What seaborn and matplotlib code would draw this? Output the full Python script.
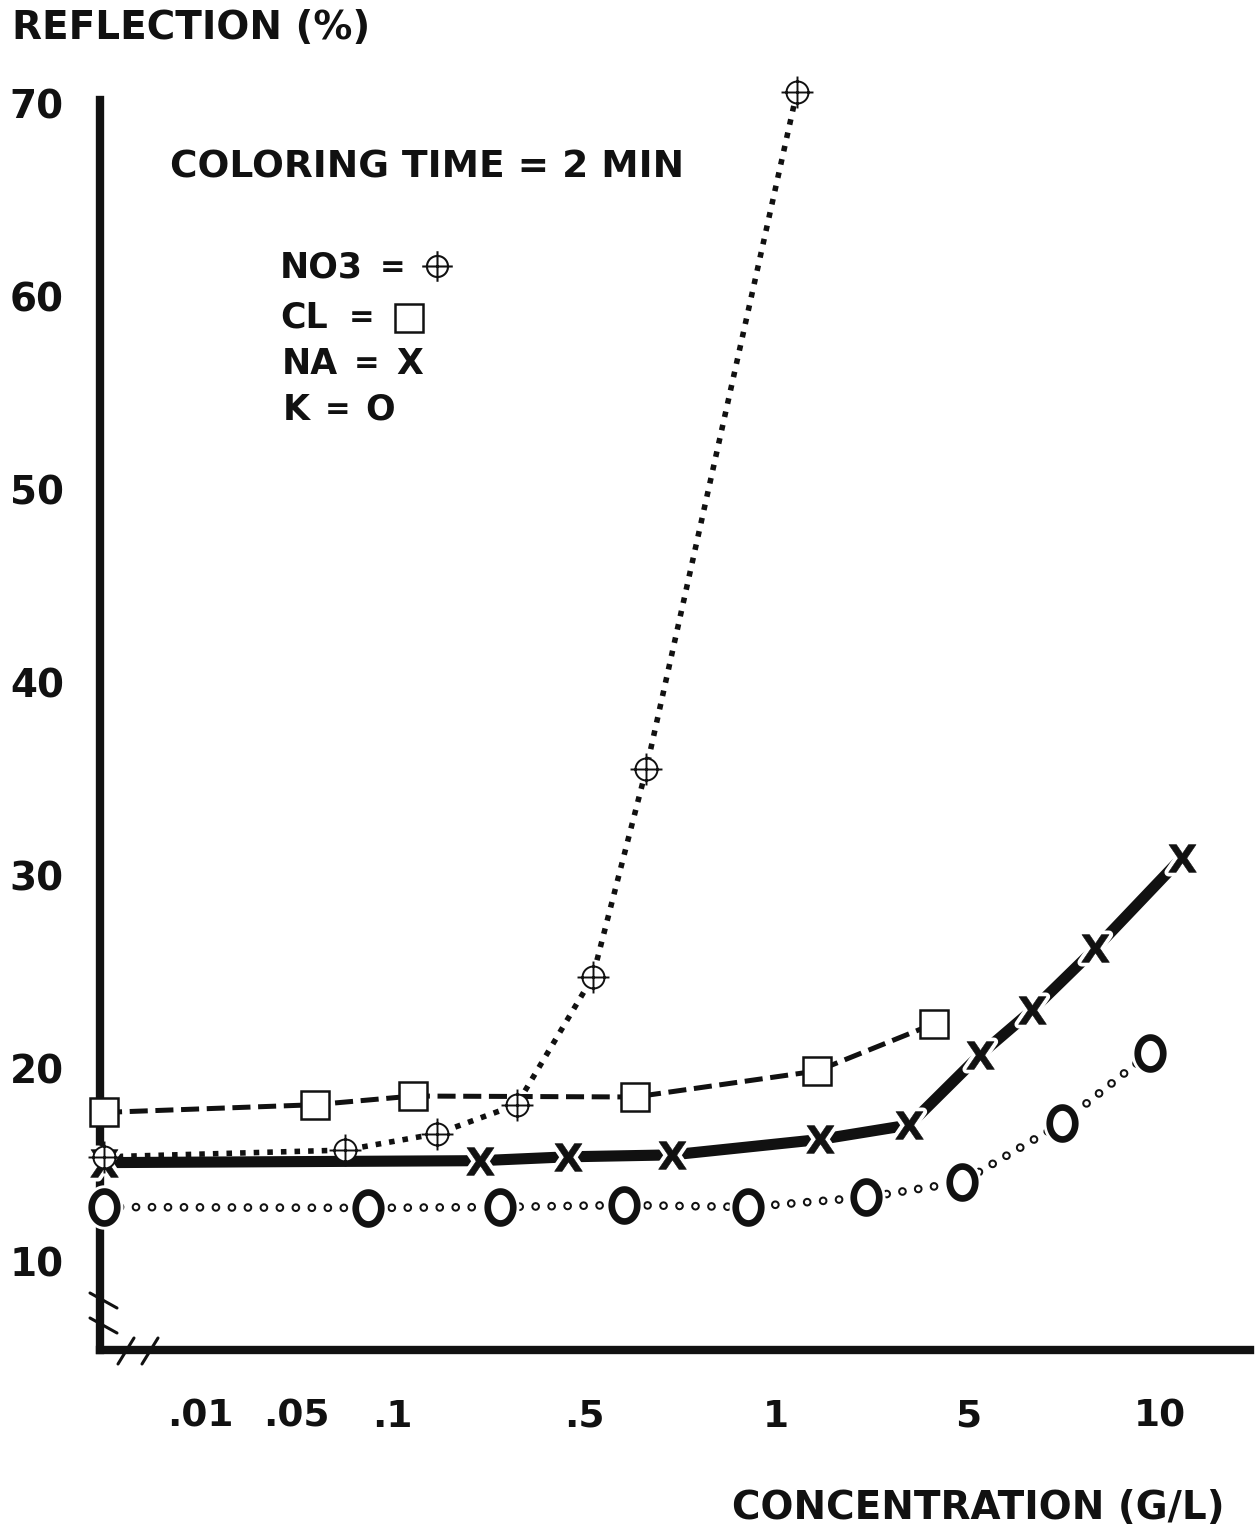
import numpy as np
import pandas as pd
import matplotlib
matplotlib.use("Agg")
import matplotlib.pyplot as plt
import seaborn as sns
from matplotlib.path import Path

# ---------------- data ----------------
# x = position on the drawn (piecewise) concentration axis, tick positions below
tick_pos = [1, 2, 3, 5, 7, 9, 11]
tick_labels = [".01", ".05", ".1", ".5", "1", "5", "10"]
y_ticks = [10, 20, 30, 40, 50, 60, 70]

no3_x = [0.0, 2.51, 3.47, 4.30, 5.09, 5.65, 7.22]
no3_y = [15.4, 15.75, 16.6, 18.1, 24.7, 35.5, 70.6]

cl_x = [0.0, 2.2, 3.22, 5.53, 7.43, 8.65]
cl_y = [17.7, 18.1, 18.55, 18.5, 19.85, 22.3]

na_x = [0.0, 3.92, 4.83, 5.92, 7.46, 8.39, 9.13, 9.67, 10.33, 11.23]
na_y = [15.1, 15.2, 15.4, 15.5, 16.3, 17.05, 20.7, 23.0, 26.2, 30.9]

k_x = [0.0, 2.75, 4.13, 5.42, 6.71, 7.94, 8.94, 9.98, 10.9]
k_y = [12.8, 12.75, 12.8, 12.9, 12.8, 13.3, 14.1, 17.15, 20.8]

# ---------------- style ----------------
sns.set_style("white")
plt.rcParams["font.family"] = ["DejaVu Sans"]
plt.rcParams["font.weight"] = "bold"
plt.rcParams["lines.scale_dashes"] = False
plt.rcParams["mathtext.fontset"] = "dejavusans"

INK = "#111111"
W, H = 1258, 1532
fig = plt.figure(figsize=(W / 100, H / 100), dpi=100)
ax = fig.add_axes([100 / W, 1 - 1350 / H, 1150 / W, 1250 / H])
ax.set_xlim(-0.042, 11.94)
ax.set_ylim(5.39, 70.16)

# circle-plus marker
circ = Path.unit_circle()
cross = Path([(-1.45, 0), (1.45, 0), (0, -1.45), (0, 1.45)],
             [Path.MOVETO, Path.LINETO, Path.MOVETO, Path.LINETO])
oplus = Path.make_compound_path(circ, cross)

# tall letter-O marker (ellipse ring)
_t = np.linspace(0, 2 * np.pi, 61)
oval = Path(np.column_stack([0.8 * np.cos(_t), np.sin(_t)]), closed=True)


def line(x, y, lw, ls, z, color=INK, cap="butt", clip=True):
    sns.lineplot(x=x, y=y, ax=ax, color=color, linewidth=lw, linestyle=ls,
                 sort=False, estimator=None, errorbar=None, zorder=z,
                 dash_capstyle=cap, solid_capstyle="butt", clip_on=clip)


def marks(x, y, marker, ms, mfc, mec, mew, z):
    sns.lineplot(x=x, y=y, ax=ax, color=INK, linestyle="none", marker=marker,
                 markersize=ms, markerfacecolor=mfc, markeredgecolor=mec,
                 markeredgewidth=mew, sort=False, estimator=None,
                 errorbar=None, zorder=z, clip_on=False)


# K : line of small open rings
line(k_x, k_y, 6.3, (0, (0.01, 11.5)), 2.0, cap="round")
line(k_x, k_y, 3.4, (0, (0.01, 11.5)), 2.05, color="white", cap="round")
# NA : thick solid line
line(na_x, na_y, 8.0, "-", 2.2)
# CL : dashed
line(cl_x, cl_y, 3.6, (0, (13, 5.5)), 2.3)
# NO3 : dotted
line(no3_x, no3_y, 4.0, (0, (4, 5.8)), 2.4, clip=False)

# marker halos + markers
marks(k_x, k_y, oval, 23, "white", "white", 9, 4)
marks(k_x, k_y, oval, 23, "white", INK, 4.8, 5)
marks(na_x, na_y, r"$\mathbf{X}$", 20, "white", "white", 6, 4)
marks(na_x, na_y, r"$\mathbf{X}$", 20, INK, INK, 0.4, 5)
marks(cl_x, cl_y, "s", 20, "white", INK, 1.8, 5)
marks(no3_x, no3_y, oplus, 23, "white", INK, 1.4, 6)

# ---------------- axes ----------------
for s in ["top", "right"]:
    ax.spines[s].set_visible(False)
for s in ["left", "bottom"]:
    ax.spines[s].set_linewidth(6)
    ax.spines[s].set_color(INK)
ax.set_yticks(y_ticks)
ax.set_yticklabels([str(v) for v in y_ticks])
ax.set_xticks(tick_pos)
ax.set_xticklabels(tick_labels)
ax.tick_params(axis="y", direction="out", length=14, width=3, pad=12,
               labelsize=28, colors=INK)
ax.tick_params(axis="x", direction="out", length=13, width=3, pad=22,
               labelsize=27, colors=INK)
ax.set_xlabel("")
ax.set_ylabel("")
ax.grid(False)


def fx(px):
    return px / W


def fy(py):
    return 1 - py / H


# axis break marks
for (x0, y0, x1, y1) in [(90, 1293, 117, 1308), (90, 1318, 117, 1333),
                         (118, 1364, 134, 1338), (142, 1364, 158, 1338)]:
    fig.add_artist(plt.Line2D([fx(x0), fx(x1)], [fy(y0), fy(y1)],
                              color=INK, lw=2.2, transform=fig.transFigure))


# ---------------- texts ----------------
def t(px, py, s, ha="left", size=28):
    fig.text(fx(px), fy(py), s, ha=ha, va="center", fontsize=size,
             fontweight="bold", color=INK)


t(12, 28, "REFLECTION (%)")
t(1225, 1508, "CONCENTRATION (G/L)", ha="right")
t(170, 167, "COLORING TIME = 2 MIN", size=27)

t(280, 267, "NO3", size=25)
t(393, 267, "=", ha="center", size=22)
t(280, 318, "CL", size=25)
t(362, 318, "=", ha="center", size=22)
t(282, 364, "NA", size=25)
t(367, 364, "=", ha="center", size=22)
t(410, 364, "X", ha="center", size=25)
t(283, 410, "K", size=25)
t(338, 410, "=", ha="center", size=22)
t(380, 410, "O", ha="center", size=25)

fig.add_artist(plt.Line2D([fx(437)], [fy(266)], marker=oplus, markersize=22,
                          markerfacecolor="none", markeredgecolor=INK,
                          markeredgewidth=1.5, linestyle="none",
                          transform=fig.transFigure))
fig.add_artist(plt.Line2D([fx(409)], [fy(318)], marker="s", markersize=20,
                          markerfacecolor="none", markeredgecolor=INK,
                          markeredgewidth=1.8, linestyle="none",
                          transform=fig.transFigure))

fig.savefig("out.png", dpi=100, facecolor="white")
